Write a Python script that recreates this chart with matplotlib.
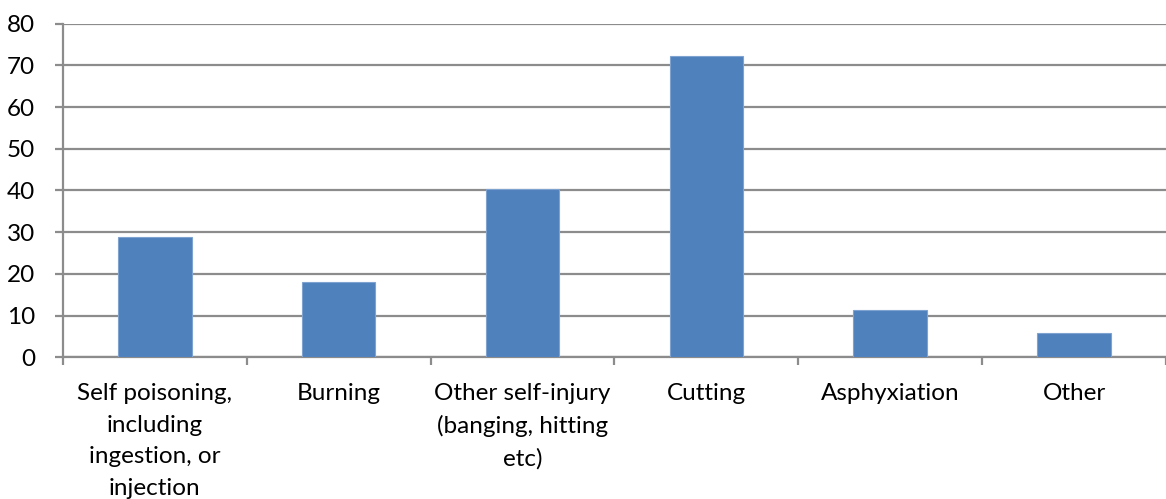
import matplotlib.pyplot as plt
import numpy as np
from matplotlib.ticker import FixedLocator, NullFormatter

categories = [
    "Self poisoning,\nincluding\ningestion, or\ninjection",
    "Burning",
    "Other self-injury\n(banging, hitting\netc)",
    "Cutting",
    "Asphyxiation",
    "Other",
]
values = [28.9, 18.0, 40.3, 72.3, 11.3, 5.9]
y_ticks = [0, 10, 20, 30, 40, 50, 60, 70, 80]

plt.rcParams['font.family'] = ['Lato', 'DejaVu Sans']

fig = plt.figure(figsize=(11.66, 4.99), dpi=100)
ax = fig.add_axes([0.054, 0.284, 0.946, 0.6685])

x = np.arange(len(categories))
ax.bar(x, values, width=0.4, color='#4F81BD', edgecolor='#7FA3D0', linewidth=0.8, zorder=3)

ax.set_xlim(-0.5, len(categories) - 0.5)
ax.set_ylim(0, 80)
ax.set_yticks(y_ticks)
ax.yaxis.grid(True, color='#8C8C8C', linewidth=1.6, zorder=0)

grey = '#8C8C8C'
for side in ['top', 'right']:
    ax.spines[side].set_visible(False)
ax.spines['left'].set_color(grey)
ax.spines['left'].set_linewidth(1.6)
ax.spines['bottom'].set_color(grey)
ax.spines['bottom'].set_linewidth(1.6)

ax.tick_params(axis='y', length=6, width=1.6, color=grey, pad=14, labelsize=17.5)

# category labels at centres, tick marks at the boundaries
ax.xaxis.set_major_locator(FixedLocator(x))
ax.set_xticklabels(categories, fontsize=17.5, linespacing=1.62, va='top')
ax.tick_params(axis='x', which='major', length=0, pad=18.5)
ax.xaxis.set_minor_locator(FixedLocator(np.arange(-0.5, len(categories), 1.0)))
ax.xaxis.set_minor_formatter(NullFormatter())
ax.tick_params(axis='x', which='minor', length=6, width=1.6, color=grey)

fig.savefig('out.png', dpi=100)
